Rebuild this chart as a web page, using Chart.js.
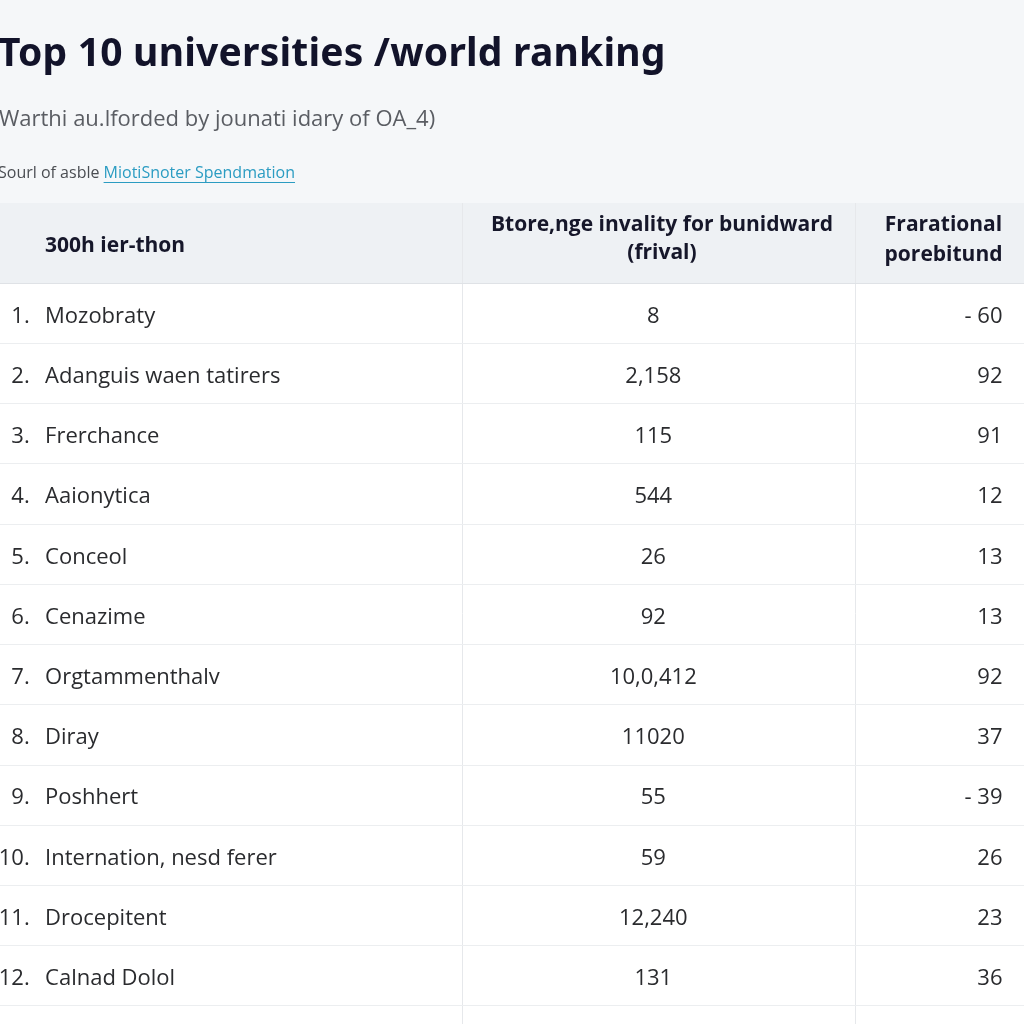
<!DOCTYPE html>
<html>
<head>
<meta charset="utf-8">
<script src="https://cdn.jsdelivr.net/npm/chart.js@4"></script>
<style>
  html, body { margin: 0; padding: 0; background: #f5f7f9; }
  canvas { display: block; }
</style>
</head>
<body>
<canvas id="table" width="1024" height="1024"></canvas>
<script>
// texts and values
const title = 'Top 10 universities /world ranking'
const subtitle = 'Warthi au.lforded by jounati idary of OA_4)'
const sourcePrefix = 'Sourl of asble '
const sourceLink = 'MiotiSnoter Spendmation'

const headerName = ['300h ier-thon']
const headerCol2 = ['Btore,nge invality for bunidward', '(frival)']
const headerCol3 = ['Frarational', 'porebitund']

const ranks = ['1.', '2.', '3.', '4.', '5.', '6.', '7.', '8.', '9.', '10.', '11.', '12.']
const names = ['Mozobraty', 'Adanguis waen tatirers', 'Frerchance', 'Aaionytica', 'Conceol',
    'Cenazime', 'Orgtammenthalv', 'Diray', 'Poshhert', 'Internation, nesd ferer',
    'Drocepitent', 'Calnad Dolol']
const col2Values = ['8', '2,158', '115', '544', '26', '92', '10,0,412', '11020', '55', '59', '12,240', '131']
const col3Values = ['- 60', '92', '91', '12', '13', '13', '92', '37', '- 39', '26', '23', '36']

// layout, in x-scale units (0..100 across the page) and row units
const X_RANK = 2.9, X_NAME = 4.4, X_COL2 = 63.8, X_COL3 = 97.9
const COL_DIVIDERS = [45.2, 83.5]
const HEADER_TOP = -0.8333

const rowIdx = names.map((n, i) => i + 1)

const textFont = '"Open Sans", "Noto Sans", sans-serif'

const tablePlugin = {
    id: 'tablePlugin',
    beforeDraw(chart) {
        const {ctx, scales: {y}, chartArea} = chart
        ctx.save()
        ctx.fillStyle = '#f5f7f9'
        ctx.fillRect(0, 0, chart.width, chart.height)
        const headBottom = y.getPixelForValue(0.5)
        ctx.fillStyle = '#eef1f4'
        ctx.fillRect(chartArea.left, y.getPixelForValue(HEADER_TOP), chartArea.right - chartArea.left, headBottom - y.getPixelForValue(HEADER_TOP))
        ctx.fillStyle = '#ffffff'
        ctx.fillRect(chartArea.left, headBottom, chartArea.right - chartArea.left, chartArea.bottom - headBottom)

        // title block above the table
        ctx.textBaseline = 'middle'
        ctx.textAlign = 'left'
        ctx.fillStyle = '#12132a'
        ctx.font = 'bold 39px "Noto Sans", sans-serif'
        ctx.letterSpacing = '0.2px'
        ctx.fillText(title, -2, 55)
        ctx.letterSpacing = '0px'
        ctx.fillStyle = '#5a5d63'
        ctx.font = '22px ' + textFont
        ctx.fillText(subtitle, -1, 120)
        ctx.font = '16px ' + textFont
        ctx.fillStyle = '#4a4d52'
        ctx.fillText(sourcePrefix, -2, 173)
        const px = -2 + ctx.measureText(sourcePrefix).width
        ctx.fillStyle = '#2b9cc2'
        ctx.fillText(sourceLink, px, 173)
        const w = ctx.measureText(sourceLink).width
        ctx.fillRect(px, 182, w, 1)
        ctx.restore()
    },
    afterDatasetsDraw(chart) {
        const {ctx, scales: {x, y}} = chart
        ctx.save()
        ctx.textBaseline = 'middle'

        // header row
        const hc = y.getPixelForValue((HEADER_TOP + 0.5) / 2)
        ctx.fillStyle = '#16172a'
        ctx.font = 'bold 21px ' + textFont
        ctx.textAlign = 'left'
        ctx.fillText(headerName[0], x.getPixelForValue(X_NAME), hc + 3)
        ctx.textAlign = 'center'
        const c2 = (x.getPixelForValue(COL_DIVIDERS[0]) + x.getPixelForValue(COL_DIVIDERS[1])) / 2
        headerCol2.forEach((t, i) => ctx.fillText(t, c2 + 3, hc - 18 + i * 28))
        const c3 = (x.getPixelForValue(COL_DIVIDERS[1]) + x.getPixelForValue(100)) / 2
        headerCol3.forEach((t, i) => ctx.fillText(t, c3 + 4, hc - 18 + i * 30))

        // body cells, positioned from the dataset elements
        ctx.fillStyle = '#2a2b2e'
        ctx.font = '22px ' + textFont
        const texts = [ranks, names, col2Values, col3Values]
        const aligns = ['right', 'left', 'center', 'right']
        chart.data.datasets.forEach((ds, d) => {
            const meta = chart.getDatasetMeta(d)
            ctx.textAlign = aligns[d]
            meta.data.forEach((el, i) => ctx.fillText(texts[d][i], el.x, el.y + 3))
        })
        ctx.restore()
    }
}

const ds = (xPos) => ({
    data: rowIdx.map(r => ({x: xPos, y: r})),
    pointRadius: 0,
    pointHoverRadius: 0
})

new Chart(document.getElementById('table'), {
    type: 'scatter',
    data: {
        datasets: [ds(X_RANK), ds(X_NAME), ds(X_COL2), ds(X_COL3)]
    },
    options: {
        responsive: false,
        animation: false,
        devicePixelRatio: 1,
        layout: {padding: {top: 203, left: 0, right: 0, bottom: 0}},
        plugins: {legend: {display: false}, tooltip: {enabled: false}},
        scales: {
            x: {
                type: 'linear', min: 0, max: 100,
                afterBuildTicks: (s) => { s.ticks = COL_DIVIDERS.map(v => ({value: v})) },
                ticks: {display: false},
                border: {display: false},
                grid: {color: '#e6e8eb', lineWidth: 1, drawTicks: false}
            },
            y: {
                type: 'linear', min: HEADER_TOP, max: 12.8, reverse: true,
                afterBuildTicks: (s) => { s.ticks = rowIdx.map(r => ({value: r - 0.5})).concat([{value: 12.5}]) },
                ticks: {display: false},
                border: {display: false},
                grid: {color: (c) => c.tick && c.tick.value === 0.5 ? '#dfe2e6' : '#eceef0', lineWidth: 1, drawTicks: false}
            }
        }
    },
    plugins: [tablePlugin]
})
</script>
</body>
</html>
